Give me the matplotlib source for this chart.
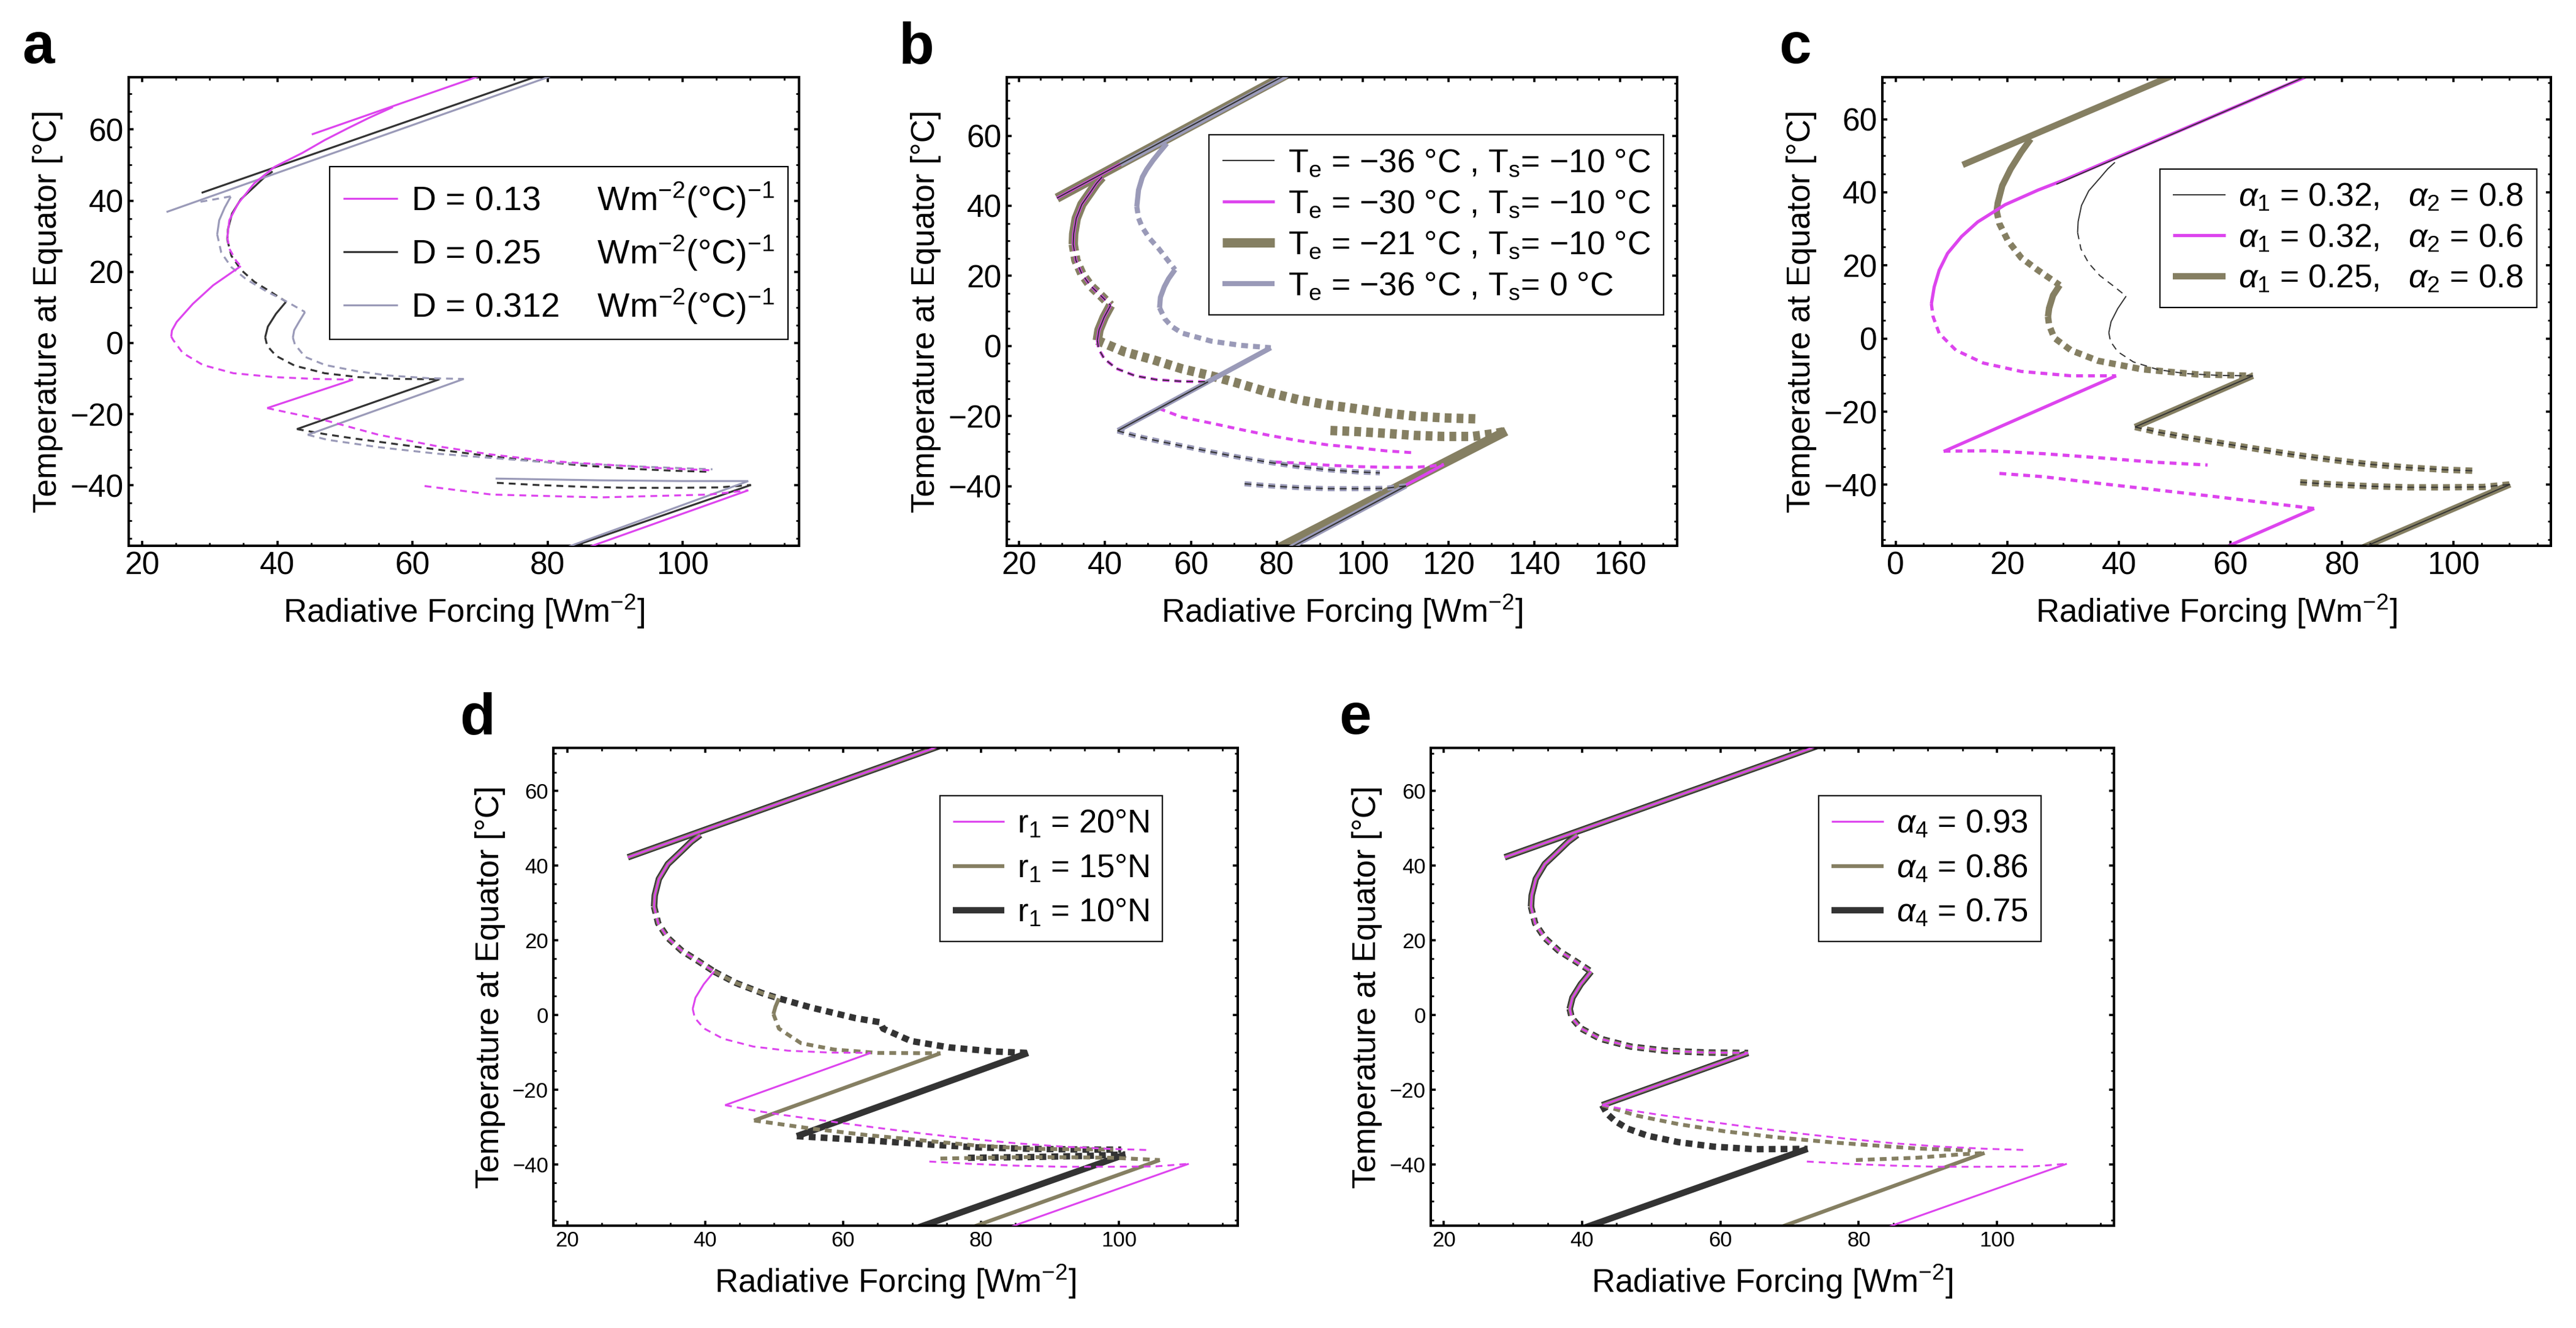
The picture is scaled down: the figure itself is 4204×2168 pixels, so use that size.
import matplotlib
matplotlib.use('Agg')
import matplotlib.pyplot as plt
from matplotlib.lines import Line2D
from matplotlib.ticker import MultipleLocator

plt.rcParams['font.family'] = ['Liberation Sans', 'DejaVu Sans']
plt.rcParams['mathtext.fontset'] = 'custom'
plt.rcParams['mathtext.rm'] = 'Liberation Sans'
plt.rcParams['mathtext.it'] = 'Liberation Sans:italic'
plt.rcParams['mathtext.bf'] = 'Liberation Sans:bold'
plt.rcParams['lines.scale_dashes'] = False

MAGENTA = '#DD44EE'
DARK = '#333333'
LAVENDER = '#9A9AB8'
OLIVE = '#857F62'

# ---- reference branch set (D=0.25, Te=-36, Ts=-10, a1=0.32, a2=0.8, r1=20N, a4=0.93)
# points are (forcing W m^-2, equator temperature degC)
BASE_WARM = [(28.8, 42.2), (84.0, 78.6)]
BASE_S1 = [(39.3, 48.2), (38.0, 46.4), (36.6, 43.9), (34.6, 40.4), (33.3, 36.4), (32.7, 32.0), (32.6, 29.0)]
BASE_S1_U = [(32.6, 29.0), (33.2, 24.5), (34.6, 20.6), (36.6, 17.2), (39.0, 14.4), (41.3, 11.6)]
BASE_S2 = [(41.3, 11.6), (39.8, 8.2), (38.6, 4.6), (38.2, 1.6)]
BASE_S2_U = [(38.2, 1.6), (38.5, -0.8), (39.8, -3.6), (42.6, -6.4), (47.0, -8.5), (52.0, -9.6), (58.0, -10.1), (64.0, -10.2)]
BASE_MID = [(64.0, -10.2), (42.9, -24.2)]
BASE_MID_U = [(42.9, -24.2), (47.0, -25.6), (51.2, -26.8), (57.9, -28.5), (64.7, -30.2), (71.5, -31.8),
              (78.3, -33.2), (85.0, -34.4), (91.8, -35.3), (98.6, -35.9), (104.0, -36.2)]
BASE_LOW_U = [(72.5, -39.3), (78.3, -39.9), (85.0, -40.4), (91.8, -40.7), (98.6, -40.7), (105.3, -40.6), (110.1, -39.9)]
BASE_COLD = [(110.1, -39.9), (82.0, -58.3)]

# ---- panel a: D = 0.13 and D = 0.312
A_MAG_WARM = [(45.1, 58.6), (72.0, 76.4)]
A_MAG_S1 = [(57.1, 66.3), (53.5, 63.2), (50.5, 60.4), (47.0, 57.0), (43.7, 53.4), (39.6, 49.5), (36.6, 44.9),
            (34.2, 39.2), (32.9, 34.5), (32.6, 29.7)]
A_MAG_S1_U = [(32.6, 29.7), (32.9, 26.5), (33.9, 23.1), (34.6, 21.6)]
A_MAG_S2 = [(34.6, 21.6), (30.5, 16.2), (27.5, 11.0), (25.1, 5.9), (24.4, 3.5), (24.3, 1.8)]
A_MAG_S2_U = [(24.3, 1.8), (24.6, 0.8), (26.0, -2.8), (29.0, -6.2), (33.5, -8.5), (39.6, -9.6), (45.6, -10.1), (51.2, -10.3)]
A_MAG_MID = [(51.2, -10.3), (38.5, -18.3)]
A_MAG_MID_U = [(38.5, -18.3), (47.4, -21.9), (55.0, -25.8), (63.6, -29.0), (71.5, -31.3), (79.7, -33.1),
               (95.9, -35.1), (104.4, -35.8)]
A_MAG_LOW_U = [(61.8, -40.2), (71.7, -42.6), (87.8, -43.4), (104.0, -42.6), (109.7, -41.4)]
A_MAG_COLD = [(109.7, -41.4), (85.0, -58.1)]

A_GRY_WARM = [(23.6, 36.8), (82.0, 76.0)]
A_GRY_WARM_U = [(33.1, 41.2), (30.5, 40.3), (28.4, 39.6)]
A_GRY_S1 = [(33.1, 41.1), (32.2, 38.0), (31.4, 34.5), (31.1, 30.5)]
A_GRY_S1_U = [(31.1, 30.5), (31.7, 25.4), (33.2, 21.3), (35.4, 17.9), (38.4, 14.5), (41.4, 11.6), (44.1, 8.7)]
A_GRY_S2 = [(44.1, 8.7), (43.2, 5.9), (42.5, 3.6), (42.3, 1.5)]
A_GRY_S2_U = [(42.3, 1.5), (42.6, -0.4), (44.1, -3.9), (47.1, -6.2), (51.7, -7.9), (56.2, -9.1), (62.3, -9.9), (67.6, -10.1)]
A_GRY_MID = [(67.6, -10.1), (44.5, -25.8)]
A_GRY_MID_U = [(44.5, -25.8), (47.4, -27.2), (55.0, -29.3), (63.6, -31.1), (79.7, -33.5), (95.9, -34.9), (104.4, -35.5)]
A_GRY_LOW = [(72.3, -38.1), (87.8, -38.6), (100.0, -38.8), (109.7, -38.8)]
A_GRY_COLD = [(109.7, -38.8), (82.0, -58.0)]

# ---- panel b: Te = -30, Te = -21, Ts = 0
B_MAG_MID = [(64.0, -10.2), (52.5, -17.8)]
B_MAG_MID_U = [(52.5, -17.8), (57.9, -20.3), (64.7, -22.0), (71.5, -23.8), (78.3, -25.5), (85.0, -27.0),
               (91.8, -28.2), (98.6, -29.0), (105.3, -29.9), (112.4, -30.5)]
B_MAG_LOW_U = [(79.6, -33.1), (85.0, -33.4), (91.8, -34.0), (98.6, -34.4), (105.3, -34.6), (112.1, -34.6),
               (115.8, -34.3), (118.9, -33.8)]
B_MAG_COLD = [(118.9, -33.8), (82.0, -58.2)]

B_OLV_S2_U = [(38.2, 1.6), (44.4, -1.6), (51.2, -3.9), (57.9, -6.5), (64.7, -8.5), (70.1, -10.3), (78.3, -13.3),
              (85.0, -15.3), (91.8, -16.8), (98.6, -17.9), (105.3, -19.1), (112.1, -20.0), (118.9, -20.5), (126.6, -20.8)]
B_OLV_LOW_U = [(92.5, -24.1), (98.6, -24.4), (105.3, -24.9), (112.1, -25.5), (118.9, -25.8), (125.6, -25.8),
               (131.1, -24.9), (133.4, -24.3)]
B_OLV_COLD = [(133.4, -24.3), (80.0, -57.9)]

B_GRY_WARM = [(43.6, 51.8), (84.0, 78.3)]
B_GRY_S1 = [(54.4, 57.8), (52.7, 55.3), (51.2, 53.0), (49.7, 50.4), (48.7, 48.2), (47.8, 44.5), (47.4, 39.8)]
B_GRY_S1_U = [(47.4, 39.8), (47.8, 36.5), (48.7, 33.8), (50.3, 30.8), (52.5, 27.8), (56.3, 21.8)]
B_GRY_S2 = [(56.3, 21.8), (54.8, 19.2), (53.8, 16.9), (52.9, 13.9), (52.7, 10.9)]
B_GRY_S2_U = [(52.7, 10.9), (53.9, 7.8), (55.5, 5.6), (57.9, 3.7), (64.7, 1.4), (71.5, 0.2), (78.6, -0.5)]
B_GRY_MID = [(78.6, -0.5), (43.0, -24.1)]

# ---- panel c: a2 = 0.6 and a1 = 0.25
C_MAG_S1 = [(76.0, 73.2), (30.4, 43.5), (25.5, 40.6), (19.6, 36.6), (14.7, 31.9), (11.8, 27.9), (9.3, 23.3),
            (7.8, 18.7), (6.9, 14.1), (6.4, 9.5)]
C_MAG_S1_U = [(6.4, 9.5), (6.7, 6.0), (7.8, 1.4), (10.8, -3.2), (15.7, -6.7), (22.5, -9.0), (31.4, -10.2), (39.5, -10.2)]
C_MAG_MID = [(39.5, -10.2), (8.6, -30.9)]
C_MAG_MID_U = [(8.6, -30.8), (16.7, -30.7), (26.5, -31.5), (36.3, -32.6), (46.1, -33.8), (55.9, -34.6)]
C_MAG_LOW_U = [(18.6, -36.9), (26.5, -37.8), (36.3, -39.6), (46.1, -41.3), (55.9, -43.0), (65.7, -44.8), (75.0, -46.5)]
C_MAG_COLD = [(75.0, -46.5), (57.0, -58.5)]

C_OLV_WARM = [(12.0, 47.5), (52.0, 73.5)]
C_OLV_S1 = [(24.2, 54.6), (22.5, 51.0), (20.6, 46.4), (19.1, 41.8), (18.3, 37.1), (18.1, 34.8)]
C_OLV_S1_U = [(18.1, 34.8), (18.6, 31.4), (20.1, 26.8), (22.5, 22.1), (25.5, 18.7), (29.4, 14.6)]
C_OLV_S2 = [(29.4, 14.6), (28.2, 11.8), (27.5, 8.3), (27.3, 6.0)]
C_OLV_S2_U = [(27.3, 6.0), (27.5, 3.7), (28.4, 0.2), (31.4, -3.2), (36.3, -6.1), (44.1, -8.4), (53.9, -9.8), (64.0, -10.2)]

# ---- panel d: r1 = 15N and 10N
D15_S1_U = [(41.3, 11.6), (44.4, 8.6), (48.3, 5.8), (50.7, 4.4)]
D15_S2 = [(50.7, 4.4), (50.2, 2.2), (49.9, 0.2)]
D15_S2_U = [(49.9, 0.2), (50.7, -3.7), (53.9, -7.6), (58.7, -9.3), (65.0, -10.2), (74.1, -10.3)]
D15_MID = [(74.1, -10.3), (47.1, -28.3)]
D15_MID_U = [(47.1, -28.3), (55.5, -30.5), (63.4, -32.2), (71.3, -33.6), (79.3, -35.0), (87.2, -35.9), (99.1, -36.1)]
D15_LOW_U = [(74.1, -38.5), (80.0, -38.3), (87.2, -38.1), (95.0, -38.2), (99.1, -38.3), (105.9, -38.9)]
D15_COLD = [(105.9, -38.9), (77.0, -58.0)]

D10_S1_U = [(41.3, 11.6), (44.4, 8.6), (48.3, 5.8), (50.7, 4.4), (55.5, 1.9), (61.8, -0.9), (65.4, -2.0),
            (65.8, -3.7), (69.8, -7.0), (75.3, -8.7), (81.7, -9.8), (86.8, -10.2)]
D10_MID = [(86.8, -10.2), (53.3, -32.5)]
D10_MID_U = [(53.3, -32.5), (63.4, -33.6), (71.3, -34.6), (79.3, -35.5), (87.2, -35.9), (95.2, -36.1), (100.3, -36.1)]
D10_LOW_U = [(78.1, -38.3), (87.2, -38.1), (95.2, -37.8), (100.9, -37.4)]
D10_COLD = [(100.9, -37.4), (69.0, -58.2)]

# ---- panel e: a4 = 0.86 and 0.75
E86_MID_U = [(42.9, -24.2), (47.9, -27.0), (54.0, -29.3), (60.6, -31.2), (68.0, -32.8), (76.4, -34.2),
             (88.3, -35.8), (96.2, -36.3)]
E86_LOW_U = [(79.6, -38.9), (88.3, -38.3), (94.6, -37.4), (98.2, -37.0)]
E86_COLD = [(98.2, -37.0), (67.0, -58.0)]

E75_MID_U = [(42.9, -24.2), (43.6, -26.5), (44.8, -28.5), (46.6, -30.5), (49.5, -32.4), (53.9, -34.1),
             (59.0, -35.3), (65.0, -36.0), (72.6, -35.9)]
E75_COLD = [(72.6, -35.9), (39.0, -57.9)]

A_LABELS = ['D = 0.13      Wm$^{-2}$(°C)$^{-1}$', 'D = 0.25      Wm$^{-2}$(°C)$^{-1}$',
            'D = 0.312    Wm$^{-2}$(°C)$^{-1}$']
B_LABELS = ['T$_\\mathrm{e}$ = −36 °C , T$_\\mathrm{s}$= −10 °C', 'T$_\\mathrm{e}$ = −30 °C , T$_\\mathrm{s}$= −10 °C',
            'T$_\\mathrm{e}$ = −21 °C , T$_\\mathrm{s}$= −10 °C', 'T$_\\mathrm{e}$ = −36 °C , T$_\\mathrm{s}$= 0 °C']
C_LABELS = ['$\\alpha_1$ = 0.32,   $\\alpha_2$ = 0.8', '$\\alpha_1$ = 0.32,   $\\alpha_2$ = 0.6',
            '$\\alpha_1$ = 0.25,   $\\alpha_2$ = 0.8']
D_LABELS = ['r$_1$ = 20°N', 'r$_1$ = 15°N', 'r$_1$ = 10°N']
E_LABELS = ['$\\alpha_4$ = 0.93', '$\\alpha_4$ = 0.86', '$\\alpha_4$ = 0.75']

DASH = (0, (8, 6))


def draw(ax, branches, color, lw, z):
    """branches: list of (points, dashed)"""
    for pts, dashed in branches:
        f = [p[0] for p in pts]
        t = [p[1] for p in pts]
        ax.plot(f, t, color=color, lw=lw, ls=DASH if dashed else '-', zorder=z,
                solid_capstyle='butt', dash_capstyle='butt', solid_joinstyle='round')


def style_axes(ax, xlim, ylim, xmaj, tick_fs):
    ax.set_xlim(*xlim)
    ax.set_ylim(*ylim)
    ax.xaxis.set_major_locator(MultipleLocator(xmaj))
    ax.yaxis.set_major_locator(MultipleLocator(20))
    ax.xaxis.set_minor_locator(MultipleLocator(5))
    ax.yaxis.set_minor_locator(MultipleLocator(5))
    ax.tick_params(which='both', direction='in', top=True, right=True)
    ax.tick_params(which='major', length=6, width=2.6, labelsize=tick_fs, pad=6)
    ax.tick_params(which='minor', length=3.5, width=2.0)
    for s in ax.spines.values():
        s.set_linewidth(2.9)
    ax.set_xlabel('Radiative Forcing [Wm$^{-2}$]', fontsize=38, labelpad=14)
    ax.set_ylabel('Temperature at Equator [°C]', fontsize=38, labelpad=8)


def add_legend(ax, colors, widths, labels, anchor, fs, spacing):
    handles = [Line2D([], [], color=c, lw=w, solid_capstyle='butt') for c, w in zip(colors, widths)]
    leg = ax.legend(handles, labels, loc='upper right', bbox_to_anchor=anchor, fontsize=fs,
                    frameon=True, fancybox=False, edgecolor='black', framealpha=1,
                    borderpad=0.4, labelspacing=spacing, handlelength=1.6, handletextpad=0.4,
                    borderaxespad=0)
    leg.get_frame().set_linewidth(1.6)
    leg.set_zorder(10)


def base_branches(mid=True, low=True):
    out = [(BASE_WARM, False), (BASE_S1, False), (BASE_S1_U, True), (BASE_S2, False), (BASE_S2_U, True)]
    if mid:
        out += [(BASE_MID, False), (BASE_MID_U, True)]
    if low:
        out += [(BASE_LOW_U, True), (BASE_COLD, False)]
    return out


fig = plt.figure(figsize=(42.04, 21.68), dpi=100)

# panel a
ax = fig.add_axes([0.04995, 0.5890, 0.2602, 0.3529])
draw(ax, base_branches(), DARK, 2.3, 2)
draw(ax, [(A_GRY_WARM, False), (A_GRY_WARM_U, True), (A_GRY_S1, False), (A_GRY_S1_U, True), (A_GRY_S2, False),
          (A_GRY_S2_U, True), (A_GRY_MID, False), (A_GRY_MID_U, True), (A_GRY_LOW, False), (A_GRY_COLD, False)],
     LAVENDER, 2.3, 3)
draw(ax, [(A_MAG_WARM, False), (A_MAG_S1, False), (A_MAG_S1_U, True), (A_MAG_S2, False), (A_MAG_S2_U, True),
          (A_MAG_MID, False), (A_MAG_MID_U, True), (A_MAG_LOW_U, True), (A_MAG_COLD, False)],
     MAGENTA, 2.3, 4)
style_axes(ax, (18.0, 117.2), (-57.0, 74.7), 20, 37)
add_legend(ax, [MAGENTA, DARK, LAVENDER], [2.3, 2.3, 2.3], A_LABELS, (0.984, 0.809), 40, 0.42)

# panel b
ax = fig.add_axes([0.3908, 0.5890, 0.2602, 0.3529])
draw(ax, base_branches(mid=False, low=False)[:4] + [(B_OLV_S2_U, True), (B_OLV_LOW_U, True), (B_OLV_COLD, False)],
     OLIVE, 11, 1)
draw(ax, base_branches(mid=False, low=False) + [(B_MAG_MID, False), (B_MAG_MID_U, True), (B_MAG_LOW_U, True),
                                               (B_MAG_COLD, False)], MAGENTA, 3.5, 2)
draw(ax, [(B_GRY_WARM, False), (B_GRY_S1, False), (B_GRY_S1_U, True), (B_GRY_S2, False), (B_GRY_S2_U, True),
          (B_GRY_MID, False), (BASE_MID_U, True), (BASE_LOW_U, True), (BASE_COLD, False)], LAVENDER, 6, 3)
draw(ax, base_branches(), DARK, 1.5, 4)
style_axes(ax, (17.1, 173.2), (-57.0, 76.7), 20, 37)
add_legend(ax, [DARK, MAGENTA, OLIVE, LAVENDER], [1.5, 3.5, 11, 6], B_LABELS, (0.980, 0.877), 38.5, 0.32)

# panel c
ax = fig.add_axes([0.7307, 0.5890, 0.2595, 0.3529])
draw(ax, [(C_OLV_WARM, False), (C_OLV_S1, False), (C_OLV_S1_U, True), (C_OLV_S2, False), (C_OLV_S2_U, True),
          (BASE_MID, False), (BASE_MID_U, True), (BASE_LOW_U, True), (BASE_COLD, False)], OLIVE, 7.5, 1)
draw(ax, [(C_MAG_S1, False), (C_MAG_S1_U, True), (C_MAG_MID, False), (C_MAG_MID_U, True),
          (C_MAG_LOW_U, True), (C_MAG_COLD, False)], MAGENTA, 3.8, 2)
draw(ax, base_branches(), DARK, 1.4, 3)
style_axes(ax, (-2.4, 117.4), (-56.7, 71.5), 20, 37)
add_legend(ax, [DARK, MAGENTA, OLIVE], [1.4, 3.8, 7.5], C_LABELS, (0.979, 0.804), 38.5, 0.3)

# panel d
ax = fig.add_axes([0.2148, 0.0770, 0.2657, 0.3598])
shared = base_branches(mid=False, low=False)[:3]
draw(ax, shared + [(D10_S1_U, True), (D10_MID, False), (D10_MID_U, True), (D10_LOW_U, True), (D10_COLD, False)],
     DARK, 7.5, 1)
draw(ax, shared + [(D15_S1_U, True), (D15_S2, False), (D15_S2_U, True), (D15_MID, False), (D15_MID_U, True),
                   (D15_LOW_U, True), (D15_COLD, False)], OLIVE, 4.5, 2)
draw(ax, base_branches(), MAGENTA, 2.2, 3)
style_axes(ax, (18.0, 117.2), (-56.5, 71.5), 20, 25)
add_legend(ax, [MAGENTA, OLIVE, DARK], [2.2, 4.5, 7.5], D_LABELS, (0.890, 0.900), 38, 0.42)

# panel e
ax = fig.add_axes([0.5554, 0.0770, 0.2652, 0.3598])
shared = base_branches(low=False)[:6]
draw(ax, shared + [(E75_MID_U, True), (E75_COLD, False)], DARK, 7.5, 1)
draw(ax, shared + [(E86_MID_U, True), (E86_LOW_U, True), (E86_COLD, False)], OLIVE, 4.5, 2)
draw(ax, base_branches(), MAGENTA, 2.2, 3)
style_axes(ax, (18.1, 116.9), (-56.5, 71.5), 20, 25)
add_legend(ax, [MAGENTA, OLIVE, DARK], [2.2, 4.5, 7.5], E_LABELS, (0.893, 0.900), 38, 0.42)

for lab, x, y in [('a', 0.0086, 0.9525), ('b', 0.349, 0.9525), ('c', 0.6905, 0.9525),
                  ('d', 0.1784, 0.4474), ('e', 0.5197, 0.4474)]:
    fig.text(x, y, lab, fontsize=68, fontweight='bold', va='baseline', ha='left')

fig.savefig('out.png', dpi=100)
